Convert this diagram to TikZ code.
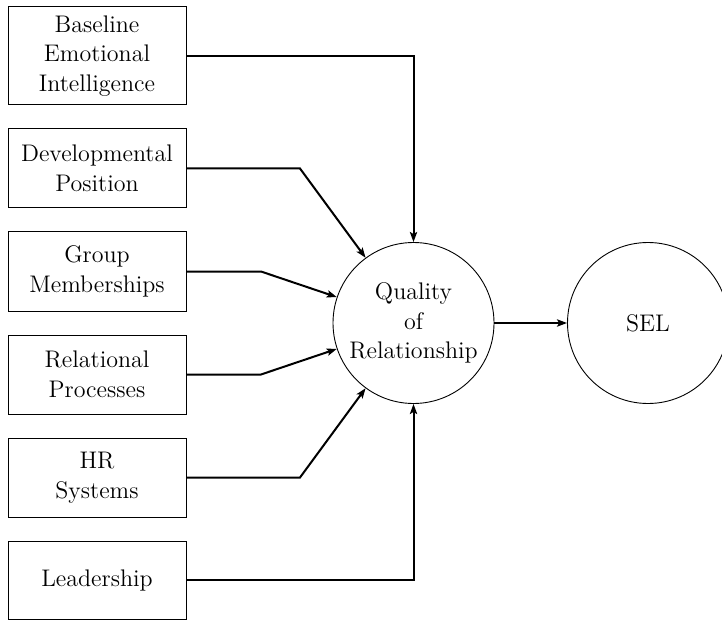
\documentclass[tikz,border=0pt]{standalone}
\usetikzlibrary{arrows.meta}
\begin{document}
\begin{tikzpicture}[x=0.5pt,y=-0.5pt,
  factor/.style={draw,line width=0.5pt,minimum width=89pt,inner sep=0pt,align=center,font=\fontsize{12}{14.75}\selectfont},
  bubble/.style={draw,circle,line width=0.45pt,minimum size=80.5pt,inner sep=0pt,align=center,font=\fontsize{12}{14.75}\selectfont},
  link/.style={line width=1pt,-{Stealth[length=5pt,width=3.6pt,inset=1pt]}}]
\useasboundingbox (0,0) rectangle (722,620);
\node[factor,minimum height=49pt] (b1) at (97,56) {Baseline\\Emotional\\Intelligence};
\node[factor,minimum height=39.5pt] (b2) at (97,168.5) {Developmental\\Position};
\node[factor,minimum height=39.5pt] (b3) at (97,271.5) {Group\\Memberships};
\node[factor,minimum height=39.5pt] (b4) at (97,374.5) {Relational\\Processes};
\node[factor,minimum height=39.5pt] (b5) at (97,477.5) {HR\\Systems};
\node[factor,minimum height=39pt] (b6) at (97,580) {Leadership};
\node[bubble] (q) at (413.5,323) {Quality\\of\\Relationship};
\node[bubble] (s) at (648,323) {SEL};
\coordinate (k2) at (300,168.5);
\coordinate (k3) at (261,271.5);
\coordinate (k4) at (261,374.5);
\coordinate (k5) at (300,477.5);
\draw[link] (b1.east) -| (q);
\draw[link] (b2.east) -- (k2) -- (q);
\draw[link] (b3.east) -- (k3) -- (q);
\draw[link] (b4.east) -- (k4) -- (q);
\draw[link] (b5.east) -- (k5) -- (q);
\draw[link] (b6.east) -| (q);
\draw[link] (q) -- (s);
\end{tikzpicture}
\end{document}
